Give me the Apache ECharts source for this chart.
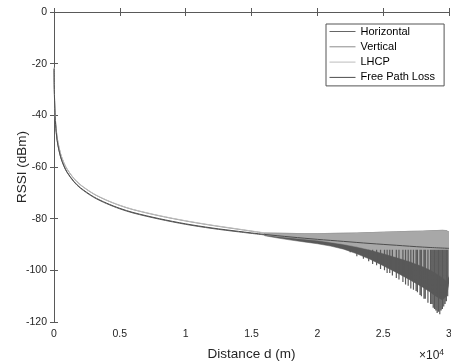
<!DOCTYPE html>
<html>
<head>
<meta charset="utf-8">
<script src="https://cdn.jsdelivr.net/npm/echarts/dist/echarts.min.js"></script>
</head>
<body style="margin:0">
<div id="main" style="width:451px;height:364px"></div>
<script>
// distances (m) for the smooth curves
var dist = [10, 20, 50, 100, 200, 300, 500, 750, 1000, 1500, 2000, 3000, 4000, 5000, 6000, 8000, 10000, 12000, 14000, 16000, 18000, 20000, 22000, 24000, 26000, 28000, 30000];
var freeLoss = [-22, -28, -36, -42, -48, -51.5, -56, -59.5, -62, -65.5, -68, -71.5, -74, -76, -77.6, -80, -82, -83.6, -84.9, -86.1, -87.1, -88, -88.8, -89.6, -90.3, -91, -91.5];

// before the curves start to oscillate
var smoothDist = [10, 20, 50, 100, 200, 300, 500, 750, 1000, 1500, 2000, 3000, 4000, 5000, 6000, 8000, 10000, 12000, 14000, 16000];
var horizontal = [-22.2, -28.2, -36.2, -42.2, -48.2, -51.7, -56.2, -59.7, -62.2, -65.7, -68.2, -71.7, -74.2, -76.2, -77.8, -80.2, -82.2, -83.8, -85.1, -86.3];
var vertical = [-21.6, -27.1, -35.1, -41, -46.9, -50.4, -54.9, -58.4, -60.9, -64.4, -66.9, -70.4, -72.9, -74.9, -76.5, -78.9, -80.9, -82.6, -84.1, -85.6];
var lhcp = [-21.5, -27, -35, -40.9, -46.8, -50.3, -54.8, -58.3, -60.8, -64.3, -66.8, -70.3, -72.8, -74.8, -76.4, -78.8, -80.8, -82.5, -84, -85.5];

// oscillating part: envelopes
var bandDist = [16000, 17000, 18000, 19000, 20000, 21000, 22000, 23000, 24000, 25000, 26000, 27000, 28000, 28500, 29000, 29500, 29800, 30000];
var lightTop = [-85.5, -85.6, -85.7, -85.8, -85.8, -85.7, -85.6, -85.5, -85.4, -85.2, -85.1, -84.9, -84.8, -84.7, -84.6, -84.5, -84.6, -85.2];
var lightBottom = [-86.3, -86.9, -87.4, -87.9, -88.4, -89.1, -89.9, -90.9, -92, -93.4, -94.9, -96.5, -98.4, -99.6, -101, -102.8, -104, -102];
var darkBottom = [-86.6, -87.5, -88.3, -89, -89.7, -90.6, -91.8, -93.6, -95.7, -98.2, -100.8, -103.6, -106.5, -108.2, -110, -111.5, -110, -105];

// deep fades below the dark envelope
var spikeDist = [22500, 23000, 23500, 23900, 24200, 24500, 24800, 25100, 25300, 25500, 25700, 26000, 26200, 26500, 26700, 26900, 27100, 27300, 27500, 27600, 27800, 27900, 28100, 28200, 28400, 28600, 28700, 28800, 28900, 29000, 29100, 29200, 29300, 29400, 29500, 29600, 29700, 29800, 29900];
var spikeLow = [-93, -94.5, -95.5, -96.5, -97.5, -98, -99.5, -100, -101, -101, -102, -103, -103.5, -104.5, -105.5, -106, -107, -107.5, -108, -108.5, -109.5, -110, -111, -111, -112.5, -113, -113, -114.5, -115, -115.5, -116.5, -116, -117, -115.5, -115, -114, -113, -112, -110];

var xTicks = ['0', '0.5', '1', '1.5', '2', '2.5', '3'];

function pairs(xs, ys) {
    return xs.map(function (x, i) { return [x, ys[i]]; });
}

var spikeData = [];
spikeDist.forEach(function (d, i) {
    spikeData.push([d, -92], [d, spikeLow[i]], [d, '-']);
});

// one polygon between two envelopes, placed with the axes' own scales
function bandRenderer(top, bottom, color) {
    return function (params, api) {
        if (params.dataIndex !== 0) return null;
        var pts = [];
        for (var i = 0; i < bandDist.length; i++) pts.push(api.coord([bandDist[i], top[i]]));
        for (var j = bandDist.length - 1; j >= 0; j--) pts.push(api.coord([bandDist[j], bottom[j]]));
        return { type: 'polygon', shape: { points: pts }, style: { fill: color, stroke: color, lineWidth: 0.5 } };
    };
}

var font = "'Liberation Sans', Arial, sans-serif";
var ink = '#262626';
var axisInk = '#595959';

var chart = echarts.init(document.getElementById('main'));
chart.setOption({
    animation: false,
    textStyle: { fontFamily: font },
    grid: { left: 54, right: 2, top: 12, bottom: 42, outerBoundsMode: 'none' },
    legend: {
        left: 326, top: 24,
        orient: 'vertical',
        data: ['Horizontal', 'Vertical', 'LHCP', 'Free Path Loss'],
        itemWidth: 26, itemHeight: 12, itemGap: 4.3,
        padding: [2, 9, 3, 3],
        borderColor: '#555', borderWidth: 1,
        backgroundColor: '#fff',
        itemStyle: { opacity: 0 },
        lineStyle: { width: 1 },
        textStyle: { fontSize: 11, color: '#000', fontFamily: font }
    },
    xAxis: [{
        type: 'value', min: 0, max: 30000, interval: 5000,
        name: 'Distance d (m)', nameLocation: 'middle', nameGap: 25, nameMoveOverlap: false,
        nameTextStyle: { fontSize: 13.5, color: ink },
        axisLine: { lineStyle: { color: axisInk, width: 1 } },
        axisTick: { inside: true, length: 4, lineStyle: { color: axisInk } },
        axisLabel: { fontSize: 10.5, color: ink, margin: 7,
            formatter: function (v) { return xTicks[v / 5000]; } },
        splitLine: { show: false }
    }, {
        type: 'value', position: 'top', min: 0, max: 30000, interval: 5000,
        axisLine: { lineStyle: { color: axisInk, width: 1 } },
        axisTick: { inside: true, length: 4, lineStyle: { color: axisInk } },
        axisLabel: { show: false },
        splitLine: { show: false }
    }],
    yAxis: [{
        type: 'value', min: -120, max: 0, interval: 20,
        name: 'RSSI (dBm)', nameLocation: 'middle', nameGap: 25, nameMoveOverlap: false,
        nameTextStyle: { fontSize: 13.5, color: ink },
        axisLine: { show: true, lineStyle: { color: axisInk, width: 1 } },
        axisTick: { show: true, inside: true, length: 4, lineStyle: { color: axisInk } },
        axisLabel: { fontSize: 10.5, color: ink, margin: 7 },
        splitLine: { show: false }
    }, {
        type: 'value', position: 'right', min: -120, max: 0, interval: 20,
        axisLine: { show: true, lineStyle: { color: axisInk, width: 1 } },
        axisTick: { show: true, inside: true, length: 4, lineStyle: { color: axisInk } },
        axisLabel: { show: false },
        splitLine: { show: false }
    }],
    graphic: [{
        type: 'text', left: 419, top: 348,
        style: {
            text: '×10{s|4}', fill: ink, font: '12px ' + font,
            rich: { s: { fontSize: 8.5, verticalAlign: 'top', padding: [0, 0, 7, 0] } }
        }
    }],
    series: [
        { name: 'hBand', type: 'custom', data: pairs(bandDist, darkBottom), clip: true, silent: true,
          renderItem: bandRenderer(lightTop, darkBottom, '#595959') },
        { name: 'hSpikes', type: 'line', data: spikeData, symbol: 'none', connectNulls: false,
          lineStyle: { color: '#595959', width: 1.2 }, silent: true },
        { name: 'lBand', type: 'custom', data: pairs(bandDist, lightBottom), clip: true, silent: true,
          renderItem: bandRenderer(lightTop, lightBottom, '#a8a8a8') },
        { name: 'Horizontal', type: 'line', data: pairs(smoothDist, horizontal), symbol: 'none', smooth: 0.3,
          color: '#666', lineStyle: { color: '#666', width: 1 } },
        { name: 'Vertical', type: 'line', data: pairs(smoothDist, vertical), symbol: 'none', smooth: 0.3,
          color: '#8c8c8c', lineStyle: { color: '#8c8c8c', width: 1 } },
        { name: 'LHCP', type: 'line', data: pairs(smoothDist, lhcp), symbol: 'none', smooth: 0.3,
          color: '#bdbdbd', lineStyle: { color: '#bdbdbd', width: 1 } },
        { name: 'Free Path Loss', type: 'line', data: pairs(dist, freeLoss), symbol: 'none', smooth: 0.3,
          color: '#4d4d4d', lineStyle: { color: '#4d4d4d', width: 1 } }
    ]
});
</script>
</body>
</html>
